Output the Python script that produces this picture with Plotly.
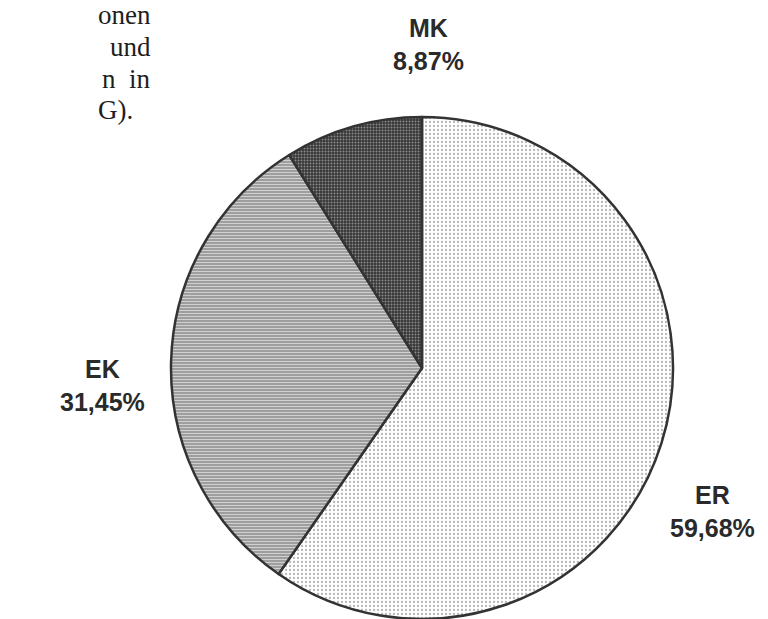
import plotly.graph_objects as go

categories = ["ER", "EK", "MK"]
values = [59.68, 31.45, 8.87]
label_texts = ["ER<br>59,68%", "EK<br>31,45%", "MK<br>8,87%"]
side_text = ["onen", "und", "n  in", "G)."]

W, H = 768, 619
cx, cy, r = 422, 368, 251

fig = go.Figure()
fig.add_trace(go.Pie(
    labels=categories,
    values=values,
    sort=False,
    direction="clockwise",
    rotation=0,
    textinfo="none",
    hoverinfo="label+percent",
    showlegend=False,
    domain=dict(x=[(cx - r) / W, (cx + r) / W], y=[(H - cy - r) / H, (H - cy + r) / H]),
    marker=dict(
        colors=["#ffffff", "#a4a4a4", "#3c3c3c"],
        line=dict(color="#333333", width=2.5),
        pattern=dict(
            shape=[".", "-", "."],
            fgcolor=["#b8b8b8", "#d0d0d0", "#8a8a8a"],
            bgcolor=["#ffffff", "#8e8e8e", "#363636"],
            fgopacity=1,
            size=[4, 3, 3],
            solidity=[0.25, 0.5, 0.35],
        ),
    ),
))

lab_pos = [(712, 511), (102, 385), (428, 44)]
for t, (x, y) in zip(label_texts, lab_pos):
    fig.add_annotation(x=x / W, y=1 - y / H, xref="paper", yref="paper",
                       text="<b>" + t + "</b>", showarrow=False,
                       font=dict(family="Liberation Sans, Arial", size=25, color="#2a2a2a"),
                       align="center", xanchor="center", yanchor="middle")

line_y = [15, 47, 79, 110]
for i, (t, y) in enumerate(zip(side_text, line_y)):
    last = i == len(side_text) - 1
    fig.add_annotation(x=(96 if last else 153) / W, y=1 - y / H, xref="paper", yref="paper",
                       text=t, showarrow=False,
                       font=dict(family="Liberation Serif, Times New Roman", size=27, color="#1e1e1e"),
                       xanchor="left" if last else "right", yanchor="middle")

fig.update_layout(width=W, height=H, margin=dict(l=0, r=0, t=0, b=0),
                  paper_bgcolor="white", plot_bgcolor="white")
fig.write_html("out.html")
